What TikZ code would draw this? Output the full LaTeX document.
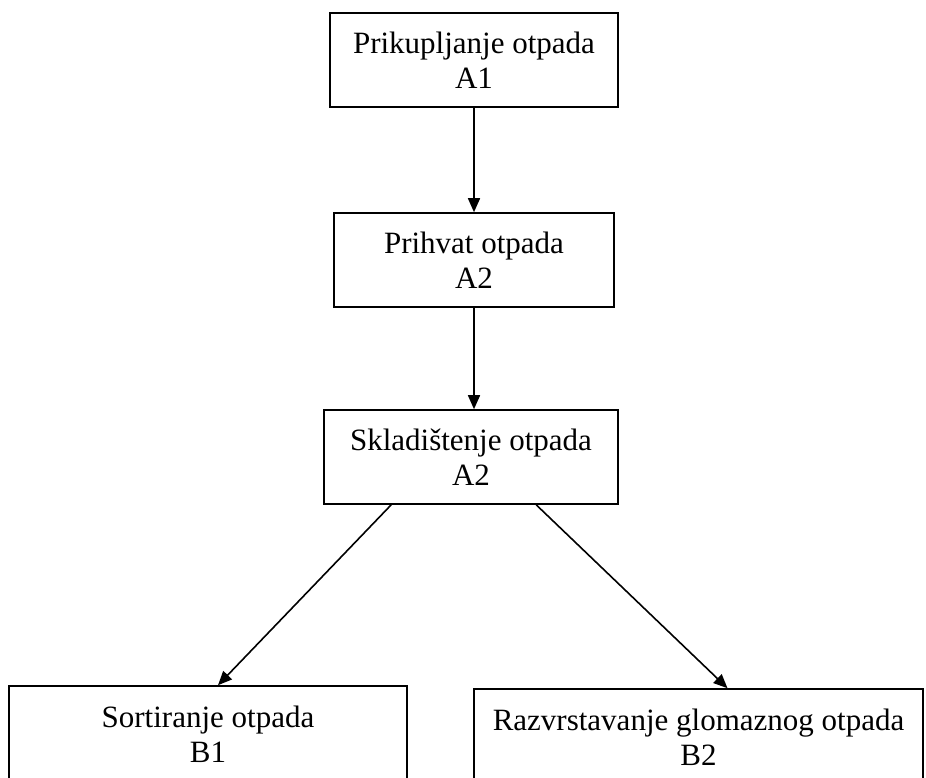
\documentclass[tikz,border=0pt]{standalone}
\usepackage{fontspec}
\setmainfont{Liberation Serif}
\usetikzlibrary{arrows.meta}
\begin{document}
\begin{tikzpicture}[x=1pt,y=-1pt,
  box/.style={draw=black,line width=1.6pt,align=center,inner sep=0pt,
    font=\fontsize{31}{35}\selectfont},
  arr/.style={draw=black,line width=1.6pt,-{Triangle[length=14pt,width=12pt]}}]
\useasboundingbox (0,0) rectangle (926,778);
\node[box,minimum width=288pt,minimum height=94pt] (b1) at (474,60) {Prikupljanje otpada\\A1};
\node[box,minimum width=280pt,minimum height=94pt] (b2) at (474,260) {Prihvat otpada\\A2};
\node[box,minimum width=294pt,minimum height=94pt] (b3) at (471,457) {Skladištenje otpada\\A2};
\node[box,minimum width=398pt,minimum height=96pt] (b4) at (208,734) {Sortiranje otpada\\B1};
\node[box,minimum width=449pt,minimum height=96pt] (b5) at (698.5,737) {Razvrstavanje glomaznog otpada\\B2};
\draw[arr] (b1.south) -- (b2.north);
\draw[arr] (b2.south) -- (b2.south |- b3.north);
\draw[arr] ([xshift=68pt]b3.south west) -- ([xshift=10pt]b4.north);
\draw[arr] ([xshift=213pt]b3.south west) -- ([xshift=29pt]b5.north);
\end{tikzpicture}
\end{document}
